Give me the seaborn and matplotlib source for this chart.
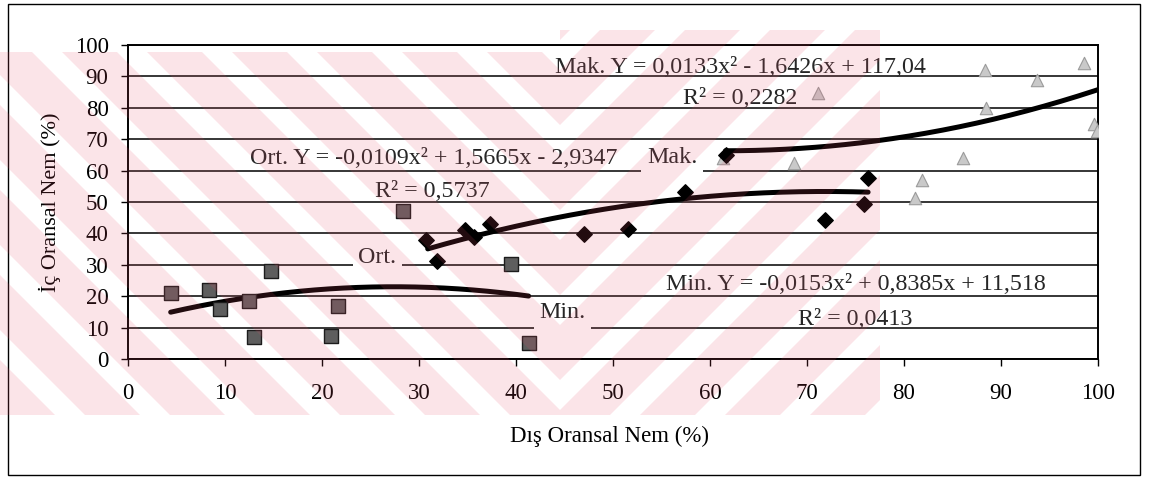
import numpy as np
import matplotlib
matplotlib.use("Agg")
import matplotlib.pyplot as plt
import seaborn as sns
from matplotlib.patches import Polygon, Rectangle
from matplotlib.transforms import IdentityTransform

# veri
min_x = [4.4, 8.3, 9.5, 12.5, 13.0, 14.7, 20.9, 21.7, 28.3, 39.5, 41.3]
min_y = [21.0, 22.0, 16.0, 18.5, 7.0, 28.0, 7.3, 17.0, 47.0, 30.3, 5.2]

ort_x = [30.7, 31.9, 34.7, 35.7, 37.3, 47.0, 51.5, 57.4, 61.6, 71.9, 75.9, 76.3]
ort_y = [37.9, 31.2, 41.0, 39.0, 42.9, 39.8, 41.3, 53.3, 65.0, 44.3, 49.3, 57.5]

mak_x = [61.3, 68.7, 71.1, 81.1, 81.9, 86.1, 88.4, 88.5, 93.7, 98.6, 99.6, 99.9]
mak_y = [63.9, 62.3, 84.6, 51.2, 57.0, 63.9, 92.0, 79.8, 88.9, 94.2, 75.0, 72.5]

# egilim egrileri (ikinci derece)
min_coef = [-0.0153, 0.8385, 11.518]
ort_coef = [-0.0109, 1.5665, -2.9347]
mak_coef = [0.0133, -1.6426, 117.04]
min_range = [4.4, 41.3]
ort_range = [30.9, 76.3]
mak_range = [61.6, 100.0]

x_ticks = list(range(0, 101, 10))
y_ticks = list(range(0, 101, 10))

W, H = 1154, 478

sns.set_theme(style="white")
plt.rcParams['font.family'] = ['Liberation Serif', 'DejaVu Serif']

fig = plt.figure(figsize=(W / 100, H / 100), dpi=100)
fig.patch.set_facecolor('white')


# filigran: ustte yari saydam pembe capraz seritler
def stripes(x0, x1, y0, y1, slope, period, width):
    clip = Rectangle((x0, H - y1), x1 - x0, y1 - y0, transform=IdentityTransform())
    h = y1 - y0
    for c in np.arange(x0 - h - period, x1 + h + period, period):
        pts = [(c, H - y0), (c + width, H - y0),
               (c + width + slope * h, H - y1), (c + slope * h, H - y1)]
        p = Polygon(pts, closed=True, transform=IdentityTransform(),
                    facecolor='#e8506a', alpha=0.15, edgecolor='none', zorder=50)
        p.set_clip_path(clip)
        fig.add_artist(p)


stripes(0, 560, 52, 415, 1, 85, 55)
stripes(560, 880, 30, 415, -1, 85, 55)

ax = fig.add_axes([128 / W, (H - 359) / H, 970 / W, 314 / H])
ax.set_facecolor('none')

# egriler
for coef, rng in [(min_coef, min_range), (ort_coef, ort_range), (mak_coef, mak_range)]:
    xs = np.linspace(rng[0], rng[1], 200)
    ys = np.polyval(coef, xs)
    sns.lineplot(x=xs, y=ys, ax=ax, color='black', lw=3.6, sort=False, zorder=3)

# noktalar
sns.scatterplot(x=min_x, y=min_y, ax=ax, marker='s', s=105, color='#5e5e5e',
                edgecolor='#1c1c1c', linewidth=1, zorder=4)
sns.scatterplot(x=ort_x, y=ort_y, ax=ax, marker='D', s=62, color='black',
                edgecolor='black', linewidth=1, zorder=5)
sns.scatterplot(x=mak_x, y=mak_y, ax=ax, marker='^', s=80, color='#c9c9c9',
                edgecolor='#9b9b9b', linewidth=0.8, zorder=4)

ax.set_xlim(0, 100)
ax.set_ylim(0, 100)
ax.set_xticks(x_ticks)
ax.set_yticks(y_ticks)
ax.yaxis.grid(True, color='black', lw=1.1)
ax.xaxis.grid(False)
ax.set_axisbelow(True)
for s in ax.spines.values():
    s.set_visible(True)
    s.set_color('black')
    s.set_linewidth(1.4)
ax.tick_params(axis='both', which='both', bottom=True, left=True, direction='out',
               length=5, width=1, color='black', labelsize=16.5, labelcolor='black')
ax.tick_params(axis='x', pad=12)
ax.tick_params(axis='y', pad=9)

ax.set_xlabel('Dış Oransal Nem (%)', fontsize=16.5, color='black')
ax.xaxis.set_label_coords(0.496, -0.245)
ax.xaxis.label.set_va('center')
ax.set_ylabel('İç Oransal Nem (%)', fontsize=16, color='black', va='center')
ax.yaxis.set_label_coords(-0.080, 0.5)

# denklemler ve etiketler
fs = 17.3
ax.text(63.1, 91, 'Mak. Y = 0,0133x² - 1,6426x + 117,04', fontsize=fs, ha='center', va='baseline', zorder=6)
ax.text(63.1, 81.2, 'R² = 0,2282', fontsize=fs, ha='center', va='baseline', zorder=6)
ax.text(31.5, 62.2, 'Ort. Y = -0,0109x² + 1,5665x - 2,9347', fontsize=fs, ha='center', va='baseline', zorder=6)
ax.text(31.4, 51.6, 'R² = 0,5737', fontsize=fs, ha='center', va='baseline', zorder=6)
ax.text(75.0, 22.0, 'Min. Y = -0,0153x² + 0,8385x + 11,518', fontsize=fs, ha='center', va='baseline', zorder=6)
ax.text(75.0, 10.8, 'R² = 0,0413', fontsize=fs, ha='center', va='baseline', zorder=6)

box = dict(facecolor='white', edgecolor='none', pad=4)
ax.text(56.1, 62.4, 'Mak.', fontsize=fs, ha='center', va='baseline', bbox=box, zorder=2)
ax.text(25.7, 30.6, 'Ort.', fontsize=fs, ha='center', va='baseline', bbox=box, zorder=2)
ax.text(44.8, 13.0, 'Min.', fontsize=fs, ha='center', va='baseline', bbox=box, zorder=2)

# dis cerceve
frame = Rectangle((8, H - 475), 1132, 471, transform=IdentityTransform(),
                  fill=False, edgecolor='black', lw=1)
fig.add_artist(frame)

fig.savefig('out.png', dpi=100)
